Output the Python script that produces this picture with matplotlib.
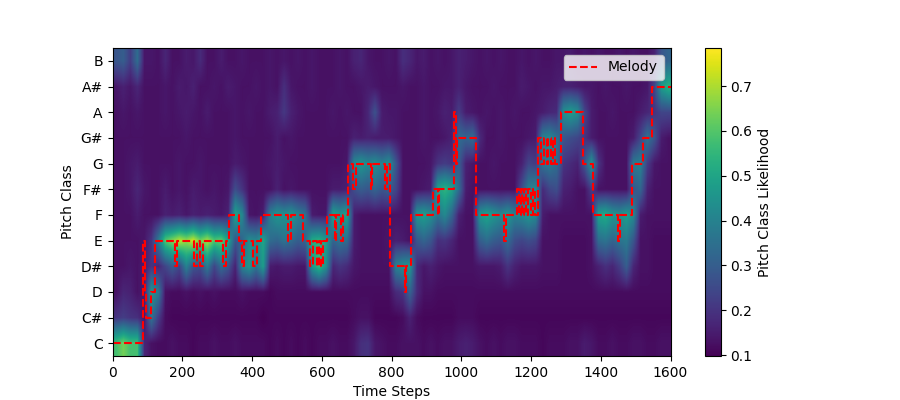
"""Pitch class likelihood heatmap with the melody path drawn on top."""
import matplotlib

matplotlib.use("Agg")
import matplotlib.pyplot as plt
import numpy as np

pitch_names = ["C", "C#", "D", "D#", "E", "F", "F#", "G", "G#", "A", "A#", "B"]

# likelihood x 100, one value per 20 time steps
row_c = [58, 64, 58, 58, 17, 13, 12, 12, 13, 12,
         12, 11, 12, 12, 13, 12, 12, 13, 12, 12,
         12, 12, 11, 12, 11, 12, 11, 12, 11, 12,
         12, 13, 12, 12, 14, 19, 20, 14, 13, 12,
         12, 13, 13, 13, 12, 13, 12, 13, 13, 15,
         16, 15, 13, 12, 13, 12, 13, 13, 12, 12,
         12, 11, 12, 12, 12, 13, 13, 15, 14, 12,
         12, 13, 12, 12, 13, 13, 12, 12, 13, 13]
row_cs = [20, 22, 20, 19, 14, 36, 22, 12, 11, 11,
          11, 11, 11, 11, 11, 11, 11, 11, 11, 11,
          11, 10, 11, 11, 11, 11, 11, 11, 11, 11,
          11, 11, 11, 11, 12, 13, 13, 11, 11, 11,
          11, 12, 16, 12, 11, 11, 11, 11, 11, 12,
          12, 12, 11, 11, 11, 11, 11, 11, 11, 11,
          11, 11, 11, 11, 11, 11, 11, 11, 11, 11,
          11, 11, 11, 11, 11, 11, 11, 11, 11, 11]
row_d = [13, 17, 16, 13, 15, 46, 38, 13, 12, 12,
         13, 12, 13, 12, 13, 12, 12, 12, 13, 12,
         12, 12, 11, 12, 12, 12, 12, 12, 12, 12,
         12, 12, 12, 12, 12, 12, 12, 12, 12, 12,
         18, 20, 32, 18, 13, 13, 12, 12, 12, 12,
         12, 12, 12, 12, 12, 12, 12, 12, 12, 12,
         12, 12, 12, 12, 12, 12, 12, 12, 12, 12,
         12, 12, 12, 12, 12, 12, 12, 12, 12, 12]
row_ds = [13, 13, 14, 13, 15, 20, 17, 24, 30, 24,
          40, 28, 26, 38, 24, 34, 28, 16, 40, 46,
          36, 48, 15, 14, 15, 15, 14, 14, 46, 56,
          44, 17, 20, 18, 14, 13, 13, 13, 13, 13,
          40, 44, 46, 18, 14, 16, 14, 13, 13, 13,
          13, 13, 14, 14, 14, 15, 20, 16, 14, 14,
          14, 13, 13, 13, 12, 12, 12, 12, 13, 16,
          19, 17, 22, 30, 17, 13, 13, 12, 12, 12]
row_e = [13, 13, 13, 13, 14, 20, 38, 60, 66, 72,
         68, 74, 64, 70, 60, 62, 50, 28, 32, 44,
         42, 50, 34, 32, 36, 34, 30, 32, 52, 54,
         48, 32, 36, 34, 15, 13, 13, 13, 13, 14,
         16, 15, 13, 28, 32, 28, 19, 20, 17, 13,
         13, 13, 30, 34, 30, 28, 34, 26, 24, 26,
         24, 13, 13, 13, 12, 12, 12, 12, 13, 34,
         36, 32, 36, 38, 28, 13, 13, 12, 12, 12]
row_f = [13, 13, 13, 15, 13, 13, 13, 16, 15, 16,
         14, 16, 15, 16, 15, 14, 16, 50, 42, 14,
         13, 15, 40, 46, 44, 46, 40, 36, 15, 14,
         14, 50, 46, 50, 15, 13, 13, 13, 13, 13,
         13, 13, 13, 46, 48, 44, 36, 42, 32, 16,
         13, 13, 46, 50, 46, 42, 46, 40, 42, 46,
         42, 15, 13, 13, 13, 13, 13, 13, 13, 50,
         52, 46, 44, 48, 42, 15, 13, 13, 13, 13]
row_fs = [13, 13, 14, 17, 14, 13, 13, 15, 13, 14,
          13, 15, 14, 13, 14, 13, 14, 26, 20, 13,
          13, 13, 13, 16, 13, 14, 13, 13, 13, 13,
          13, 15, 15, 16, 26, 30, 28, 32, 28, 30,
          24, 13, 13, 13, 14, 15, 50, 54, 50, 34,
          15, 13, 13, 13, 13, 13, 13, 13, 26, 40,
          42, 18, 24, 26, 16, 15, 13, 13, 22, 13,
          13, 13, 13, 13, 28, 32, 16, 13, 13, 13]
row_g = [13, 13, 14, 15, 13, 13, 13, 13, 13, 14,
         13, 13, 14, 13, 13, 13, 13, 15, 14, 13,
         13, 13, 14, 15, 14, 13, 13, 13, 13, 13,
         13, 13, 13, 14, 42, 46, 42, 44, 40, 44,
         28, 13, 13, 13, 13, 14, 20, 22, 20, 30,
         16, 14, 13, 13, 14, 13, 13, 13, 16, 24,
         22, 36, 38, 34, 20, 18, 16, 28, 46, 20,
         13, 13, 13, 13, 38, 40, 22, 14, 13, 13]
row_gs = [13, 13, 13, 13, 13, 13, 13, 13, 13, 13,
          14, 13, 13, 13, 13, 13, 13, 14, 13, 13,
          13, 13, 13, 15, 13, 14, 13, 13, 13, 13,
          13, 13, 13, 13, 16, 15, 16, 15, 15, 15,
          14, 13, 13, 13, 14, 13, 13, 14, 16, 34,
          32, 34, 18, 13, 13, 14, 13, 13, 13, 14,
          15, 40, 42, 36, 28, 26, 24, 20, 15, 13,
          13, 13, 13, 13, 15, 24, 36, 28, 15, 13]
row_a = [13, 14, 13, 14, 13, 13, 13, 14, 13, 14,
         15, 14, 13, 15, 13, 13, 13, 14, 13, 14,
         13, 13, 15, 16, 21, 16, 14, 13, 13, 13,
         13, 14, 13, 14, 13, 13, 17, 27, 15, 14,
         14, 13, 13, 13, 14, 13, 14, 16, 15, 22,
         15, 14, 13, 14, 13, 14, 13, 14, 13, 13,
         14, 15, 17, 18, 44, 48, 44, 24, 15, 13,
         13, 14, 13, 13, 13, 15, 17, 20, 24, 24]
row_as = [14, 16, 14, 17, 13, 13, 13, 14, 13, 15,
          14, 16, 13, 13, 14, 13, 15, 14, 13, 13,
          14, 13, 14, 13, 19, 14, 13, 13, 14, 13,
          13, 13, 14, 13, 13, 14, 15, 14, 13, 13,
          13, 14, 13, 13, 14, 13, 13, 14, 14, 16,
          14, 13, 13, 13, 14, 13, 13, 13, 15, 14,
          13, 14, 14, 15, 16, 16, 15, 14, 14, 13,
          14, 13, 13, 14, 13, 13, 14, 24, 48, 54]
row_b = [28, 30, 22, 34, 14, 14, 13, 17, 13, 13,
         15, 14, 18, 13, 13, 15, 13, 13, 14, 13,
         13, 13, 14, 13, 14, 13, 14, 13, 14, 13,
         13, 13, 14, 13, 16, 17, 14, 13, 13, 14,
         13, 19, 17, 14, 15, 13, 14, 13, 14, 16,
         15, 14, 13, 14, 13, 14, 13, 13, 14, 13,
         14, 13, 13, 14, 14, 15, 13, 14, 13, 14,
         13, 13, 14, 13, 14, 13, 13, 16, 28, 32]

# time where the melody changes note, and the pitch class it moves to
melody_times = [0, 87, 92, 96, 110, 122, 180, 186, 235, 242, 251, 259,
                316, 326, 335, 364, 370, 378, 402, 413, 426, 502, 512, 545,
                565, 575, 585, 592, 597, 604, 614, 639, 642, 655, 660, 675,
                690, 698, 741, 744, 780, 788, 797, 838, 842, 856, 918, 932,
                935, 980, 984, 988, 994, 1042, 1123, 1127, 1161, 1166, 1170,
                1175, 1180, 1185, 1190, 1200, 1205, 1212, 1221, 1228, 1238,
                1245, 1250, 1256, 1262, 1270, 1286, 1350, 1378, 1450, 1454,
                1489, 1520, 1546, 1600]
melody_pitch = [0, 4, 2, 1, 2, 4, 3, 4, 3, 4, 3, 4,
                3, 4, 5, 4, 3, 4, 3, 4, 5, 4, 5, 4,
                3, 4, 3, 4, 3, 4, 5, 4, 5, 4, 5, 7,
                6, 7, 6, 7, 6, 7, 3, 2, 3, 5, 6, 5,
                6, 9, 7, 8, 8, 5, 4, 5, 6, 5, 6,
                5, 6, 5, 6, 5, 6, 5, 8, 7, 8,
                7, 8, 7, 8, 7, 9, 7, 5, 4, 5,
                7, 8, 10, 10]

chroma = np.array([row_c, row_cs, row_d, row_ds, row_e, row_f, row_fs,
                   row_g, row_gs, row_a, row_as, row_b]) / 100.0

fig, ax = plt.subplots(figsize=(9, 4))
im = ax.imshow(chroma, aspect="auto", origin="lower", cmap="viridis",
               interpolation="bilinear", extent=(0, 1600, -0.5, 11.5),
               vmin=0.098, vmax=0.785)
ax.step(melody_times, melody_pitch, where="post", color="red",
        linestyle="--", label="Melody")
ax.set_yticks(range(12))
ax.set_yticklabels(pitch_names)
ax.set_xlabel("Time Steps")
ax.set_ylabel("Pitch Class")
ax.legend(loc="upper right")
fig.colorbar(im, ax=ax, label="Pitch Class Likelihood")
fig.savefig("out.png", dpi=100)
plt.close(fig)
